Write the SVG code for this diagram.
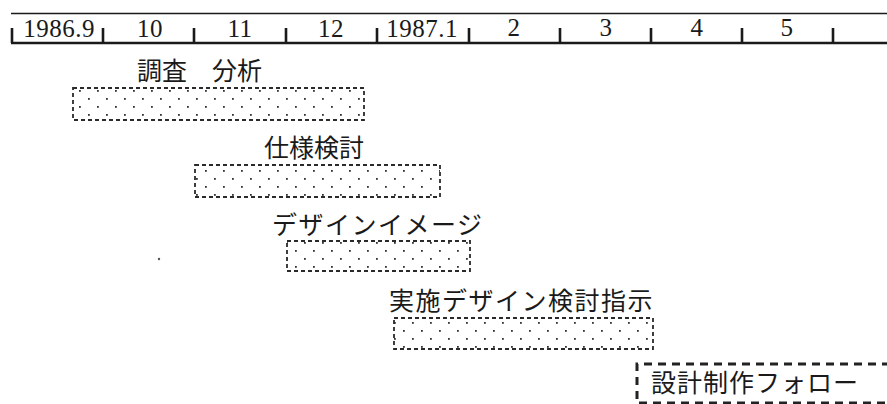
<svg xmlns="http://www.w3.org/2000/svg" width="887" height="404" viewBox="0 0 887 404">
<style>
.tl{font-family:"Liberation Serif","Times New Roman",serif;font-size:25px;fill:#1a1a1a;text-anchor:middle;letter-spacing:0.5px}
.lb{font-family:"Noto Sans CJK JP","Noto Sans CJK SC",sans-serif;font-size:25px;fill:#1a1a1a;font-weight:400}
.bar{fill:url(#dots);stroke:#2a2a2a;stroke-width:1.8;stroke-dasharray:4 3}
.ax{stroke:#1a1a1a;fill:none}
</style>
<defs>
<pattern id="dots" x="79" y="90" width="18" height="16" patternUnits="userSpaceOnUse">
<rect x="0" y="0" width="1.8" height="1.8" fill="#333"/>
<rect x="9" y="8" width="1.8" height="1.8" fill="#333"/>
</pattern>
</defs>
<rect width="887" height="404" fill="#fff"/>
<g id="timeline">
<line class="ax" x1="11" y1="13.5" x2="887" y2="13.5" stroke-width="1.6"/>
<line class="ax" x1="11" y1="43" x2="887" y2="43" stroke-width="2.6"/>
<g stroke="#1a1a1a" stroke-width="2.6">
<line x1="12" y1="28" x2="12" y2="43"/>
<line x1="103" y1="28" x2="103" y2="43"/>
<line x1="194" y1="28" x2="194" y2="43"/>
<line x1="286" y1="28" x2="286" y2="43"/>
<line x1="377" y1="28" x2="377" y2="43"/>
<line x1="469" y1="28" x2="469" y2="43"/>
<line x1="560" y1="28" x2="560" y2="43"/>
<line x1="651" y1="28" x2="651" y2="43"/>
<line x1="742" y1="28" x2="742" y2="43"/>
<line x1="833" y1="28" x2="833" y2="43"/>
</g>
<text class="tl" x="59" y="37">1986.9</text>
<text class="tl" x="150" y="37">10</text>
<text class="tl" x="240" y="37">11</text>
<text class="tl" x="331" y="37">12</text>
<text class="tl" x="422" y="37">1987.1</text>
<text class="tl" x="514" y="36">2</text>
<text class="tl" x="606" y="36">3</text>
<text class="tl" x="697" y="36">4</text>
<text class="tl" x="787" y="36">5</text>
</g>
<g id="task1">
<rect class="bar" x="73" y="88" width="291" height="32"/>
<text class="lb" x="137" y="80">調査　分析</text>
</g>
<g id="task2">
<rect class="bar" x="195" y="165" width="245" height="32"/>
<text class="lb" x="264" y="157">仕様検討</text>
</g>
<g id="task3">
<rect class="bar" x="287" y="241" width="183" height="30"/>
<text class="lb" x="272" y="234" letter-spacing="1.5">デザインイメージ</text>
</g>
<g id="task4">
<rect class="bar" x="394" y="318" width="259" height="31"/>
<text class="lb" x="389" y="310" letter-spacing="1.5">実施デザイン検討指示</text>
</g>
<g id="task5">
<path d="M890 364 H637 V403 H890" fill="none" stroke="#222" stroke-width="3" stroke-dasharray="8 6"/>
<text class="lb" x="651" y="392" font-size="28" letter-spacing="1">設計制作フォロー</text>
</g>
<circle cx="159" cy="259" r="1.2" fill="#555"/>
</svg>
